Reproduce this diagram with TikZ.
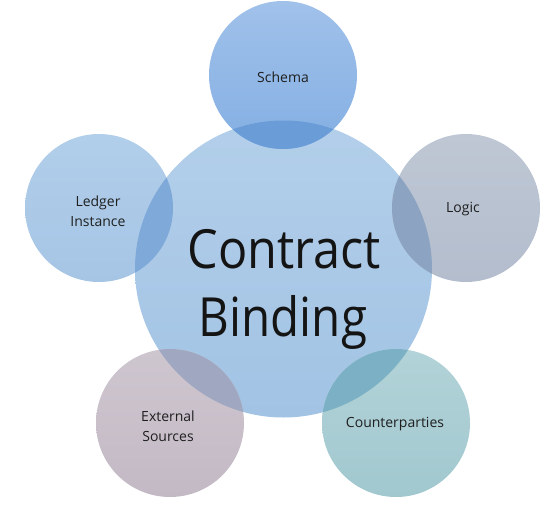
\documentclass[tikz,border=0pt]{standalone}
\usepackage{fontspec}
\setmainfont{Open Sans}
\begin{document}
\begin{tikzpicture}[x=1pt,y=-1pt,
  lbl/.style={font=\fontsize{14}{20}\selectfont, text=black!88, align=center, inner sep=0pt},
  big/.style={font=\fontsize{54}{68}\selectfont, text=black!92, align=center, inner sep=0pt}]
\useasboundingbox (0,0) rectangle (546,516);
\definecolor{cenT}{HTML}{B3CFEA}\definecolor{cenB}{HTML}{A2C3E4}
\definecolor{schT}{HTML}{A0C1EA}\definecolor{schB}{HTML}{84AFE3}
\definecolor{logT}{HTML}{BFC7D4}\definecolor{logB}{HTML}{B3BDCD}
\definecolor{couT}{HTML}{B2D3D8}\definecolor{couB}{HTML}{A1C8CF}
\definecolor{extT}{HTML}{CEC6CF}\definecolor{extB}{HTML}{C3B9C5}
\definecolor{ledT}{HTML}{B1CEEA}\definecolor{ledB}{HTML}{A6C5E5}
\definecolor{schO}{HTML}{6A9CD8}
\definecolor{logO}{HTML}{8CA4C2}
\definecolor{couO}{HTML}{7CB0C4}
\definecolor{extO}{HTML}{A0A8C1}
\definecolor{ledO}{HTML}{7EA9D9}
\coordinate (c) at (283.5,269);
\coordinate (s) at (283,75);
\coordinate (l) at (466,208);
\coordinate (p) at (396,423);
\coordinate (e) at (170,423);
\coordinate (g) at (99,208);
\shade[top color=cenT,bottom color=cenB] (c) circle (148.5);
\shade[top color=schT,bottom color=schB] (s) circle (74);
\shade[top color=logT,bottom color=logB] (l) circle (74);
\shade[top color=couT,bottom color=couB] (p) circle (74);
\shade[top color=extT,bottom color=extB] (e) circle (74);
\shade[top color=ledT,bottom color=ledB] (g) circle (74);
\begin{scope}
\clip (c) circle (148.5);
\fill[schO] (s) circle (74);
\fill[logO] (l) circle (74);
\fill[couO] (p) circle (74);
\fill[extO] (e) circle (74);
\fill[ledO] (g) circle (74);
\end{scope}
\node[big] (tc) at (284,268) [anchor=base] {\scalebox{0.9}[1]{Contract}};
\node[big] (tb) at (283,336) [anchor=base] {\scalebox{0.88}[1]{Binding}};
\node[lbl] (ts) at (283,77) {Schema};
\node[lbl] (tl) at (463,209) {Logic};
\node[lbl] (tp) at (395,424) {Counterparties};
\node[lbl] (te) at (168,426) {External\\Sources};
\node[lbl] (tg) at (98,211) {Ledger\\Instance};
\end{tikzpicture}
\end{document}
